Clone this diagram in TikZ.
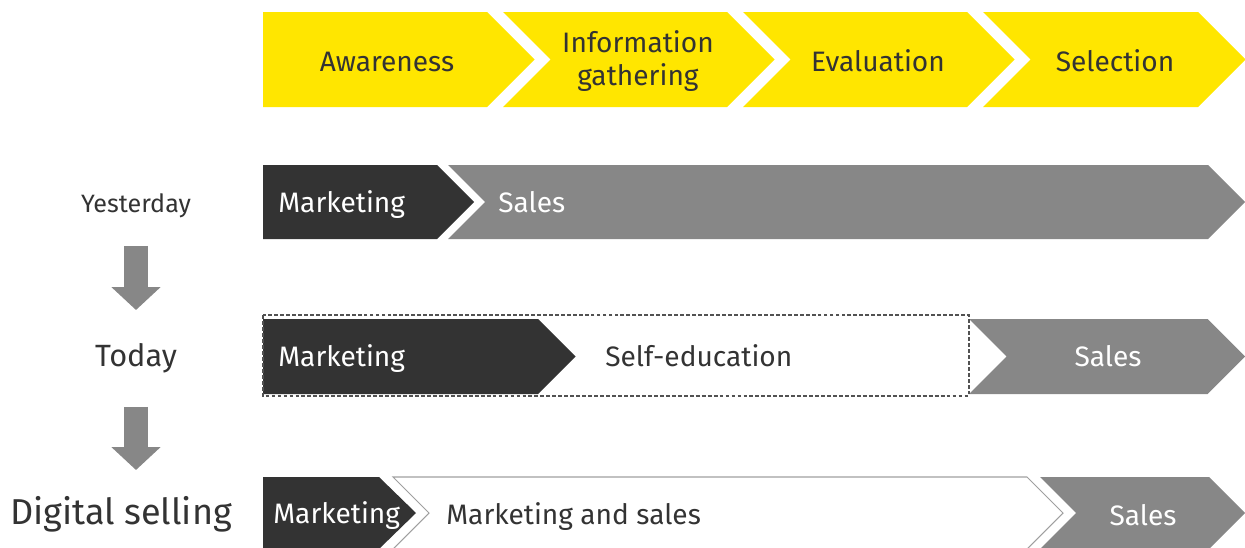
\documentclass[tikz,border=0pt]{standalone}
\usepackage{fontspec}
\setmainfont{Fira Sans}
\usetikzlibrary{arrows.meta}
\definecolor{eyyellow}{HTML}{FFE600}
\definecolor{eydark}{HTML}{333333}
\definecolor{eygrey}{HTML}{878787}

\begin{document}
\begin{tikzpicture}[x=0.02cm,y=-0.02cm,
		txt/.style={inner sep=0pt, font=\fontsize{16}{18.5}\selectfont},
		ontone/.style={txt, text=eydark},
		onshade/.style={txt, text=white},
		downarrow/.style={eygrey, line width=0.48cm, -{Triangle[length=0.46cm,width=0.96cm]}}]
		\useasboundingbox (0,0) rectangle (1245,548);
		% buying stages
		\fill[eyyellow] (263,12) -- (487,12) -- (534.5,59.5) -- (487,107) -- (263,107) -- cycle;
		\foreach \x/\r in {503/727,743/967,983/1198}
			\fill[eyyellow] (\x,12) -- (\r,12) -- (\r+47.5,59.5) -- (\r,107) -- (\x,107) -- (\x+47.5,59.5) -- cycle;
		\draw (387,71) node [ontone, anchor=base] (aw) {Awareness};
		\draw (638,61) node [ontone, align=center] (info) {Information\\gathering};
		\draw (878,71) node [ontone, anchor=base] (eval) {Evaluation};
		\draw (1115,71) node [ontone, anchor=base] (sel) {Selection};
		% yesterday
		\fill[eydark] (263,165) -- (437,165) -- (474,202) -- (437,239) -- (263,239) -- cycle;
		\fill[eygrey] (448,165) -- (1208,165) -- (1245,202) -- (1208,239) -- (448,239) -- (485,202) -- cycle;
		\draw (278,212) node [onshade, anchor=base west] (ymkt) {Marketing};
		\draw (498,212) node [onshade, anchor=base west] (ysales) {Sales};
		% today
		\fill[eydark] (263,319) -- (538,319) -- (575.5,356.5) -- (538,394) -- (263,394) -- cycle;
		\fill[eygrey] (969,319) -- (1207.5,319) -- (1245,356.5) -- (1207.5,394) -- (969,394) -- (1006.5,356.5) -- cycle;
		\draw[eydark!85, line width=0.6pt, dash pattern=on 2.2pt off 1.2pt] (263,315) rectangle (969,396);
		\draw (278,366) node [onshade, anchor=base west] (tmkt) {Marketing};
		\draw (605,366) node [ontone, anchor=base west] (tself) {Self-education};
		\draw (1108,366) node [onshade, anchor=base] (tsales) {Sales};
		% digital selling
		\fill[eydark] (263,477) -- (379,477) -- (416,513) -- (379,549) -- (263,549) -- cycle;
		\draw[eygrey!80, line width=0.6pt] (393,477) -- (1027,477) -- (1063,513) -- (1027,549) -- (393,549) -- (429,513) -- cycle;
		\fill[eygrey] (1040,477) -- (1209,477) -- (1245,513) -- (1209,549) -- (1040,549) -- (1076,513) -- cycle;
		\draw (273,523) node [onshade, anchor=base west] (dmkt) {Marketing};
		\draw (446,524) node [ontone, anchor=base west] (dboth) {Marketing and sales};
		\draw (1143,525) node [onshade, anchor=base] (dsales) {Sales};
		% time line
		\draw (136,212) node [ontone, font=\fontsize{14.3}{17}\selectfont, anchor=base] (yest) {Yesterday};
		\draw (136,366) node [ontone, font=\fontsize{17.5}{21}\selectfont, anchor=base] (today) {Today};
		\draw (121,524) node [ontone, font=\fontsize{20.5}{24}\selectfont, anchor=base] (dig) {Digital selling};
		\draw[downarrow, shorten <=0.68cm, shorten >=1.12cm] (yest.base) -- (today.base);
		\draw[downarrow, shorten <=0.82cm, shorten >=1.08cm] (today.base) -- (today.base |- dig.base);
	\end{tikzpicture}
\end{document}
